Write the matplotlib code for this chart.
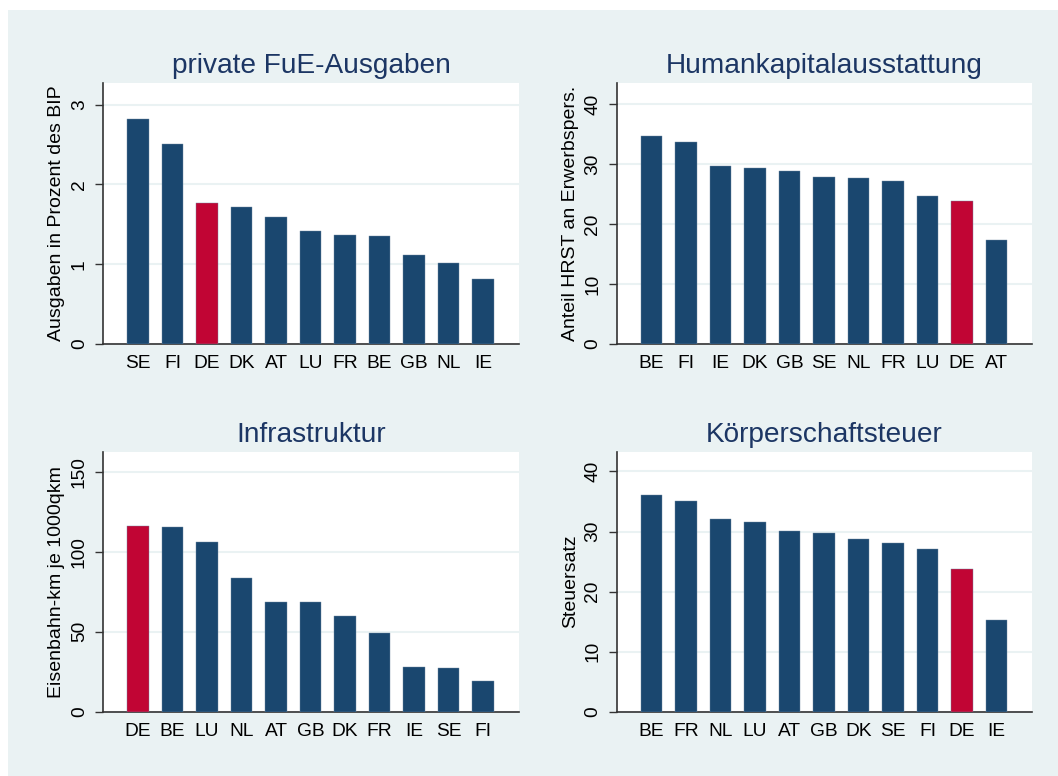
import numpy as np
import matplotlib
matplotlib.use("Agg")
from matplotlib import pyplot as plt

plt.rcParams['font.family'] = ['Liberation Sans', 'DejaVu Sans']

# data
fue_land = ['SE', 'FI', 'DE', 'DK', 'AT', 'LU', 'FR', 'BE', 'GB', 'NL', 'IE']
fue_wert = [2.82, 2.51, 1.77, 1.72, 1.59, 1.42, 1.36, 1.35, 1.12, 1.01, 0.81]

hk_land = ['BE', 'FI', 'IE', 'DK', 'GB', 'SE', 'NL', 'FR', 'LU', 'DE', 'AT']
hk_wert = [34.7, 33.6, 29.6, 29.3, 28.9, 27.9, 27.6, 27.1, 24.6, 23.9, 17.4]

inf_land = ['DE', 'BE', 'LU', 'NL', 'AT', 'GB', 'DK', 'FR', 'IE', 'SE', 'FI']
inf_wert = [116.0, 115.6, 106.0, 83.5, 68.5, 68.5, 60.0, 49.4, 27.9, 27.3, 19.2]

st_land = ['BE', 'FR', 'NL', 'LU', 'AT', 'GB', 'DK', 'SE', 'FI', 'DE', 'IE']
st_wert = [36.1, 35.1, 32.1, 31.6, 30.1, 29.8, 28.8, 28.1, 27.1, 23.8, 15.3]

navy = '#1a476f'
rot = '#c10534'
bg = '#eaf2f3'

fig = plt.figure(figsize=(10.58, 7.76), dpi=100)
fig.patch.set_facecolor('white')
# grey graph region, white strip at top and left
hinter = plt.Rectangle((8 / 1058, 0), 1, 1 - 10 / 776, transform=fig.transFigure,
                       facecolor=bg, edgecolor='none', zorder=-5)
fig.add_artist(hinter)


def panel(rect, land, wert, titel, ylab, yticks, ytop):
    ax = fig.add_axes(rect)
    x = np.arange(len(land))
    farben = [rot if l == 'DE' else navy for l in land]
    ax.bar(x, wert, width=0.62, color=farben, edgecolor='#6f8aa3', linewidth=0.3, zorder=3)
    ax.set_xlim(-1.01, 11.04)
    ax.set_ylim(0, ytop)
    ax.set_xticks(x)
    ax.set_xticklabels(land, fontsize=13.8)
    ax.tick_params(axis='x', length=0, pad=8)
    ax.set_yticks(yticks)
    ax.set_yticklabels([str(t) for t in yticks], rotation=90, va='center', fontsize=13.8)
    ax.tick_params(axis='y', length=6, width=1, pad=5, color='#333333')
    ax.grid(axis='y', color='#eaf2f3', linewidth=1.5, zorder=0)
    for s in ['top', 'right']:
        ax.spines[s].set_visible(False)
    for s in ['left', 'bottom']:
        ax.spines[s].set_color('#333333')
        ax.spines[s].set_linewidth(1.2)
    ax.set_title(titel, fontsize=20.2, color='#1c3664', pad=7)
    ax.set_ylabel(ylab, fontsize=14, labelpad=4)
    return ax


w = 0.3929
h1 = 0.3363
h2 = 0.3351
panel([0.0976, 0.5567, w, h1], fue_land, fue_wert, 'private FuE-Ausgaben',
      'Ausgaben in Prozent des BIP', [0, 1, 2, 3], 3.27)
panel([0.5829, 0.5567, w, h1], hk_land, hk_wert, 'Humankapitalausstattung',
      'Anteil HRST an Erwerbspers.', [0, 10, 20, 30, 40], 43.5)
panel([0.0976, 0.0829, w, h2], inf_land, inf_wert, 'Infrastruktur',
      'Eisenbahn-km je 1000qkm', [0, 50, 100, 150], 162.5)
panel([0.5829, 0.0829, w, h2], st_land, st_wert, 'Körperschaftsteuer',
      'Steuersatz', [0, 10, 20, 30, 40], 43.3)

fig.savefig('out.png', dpi=100)
